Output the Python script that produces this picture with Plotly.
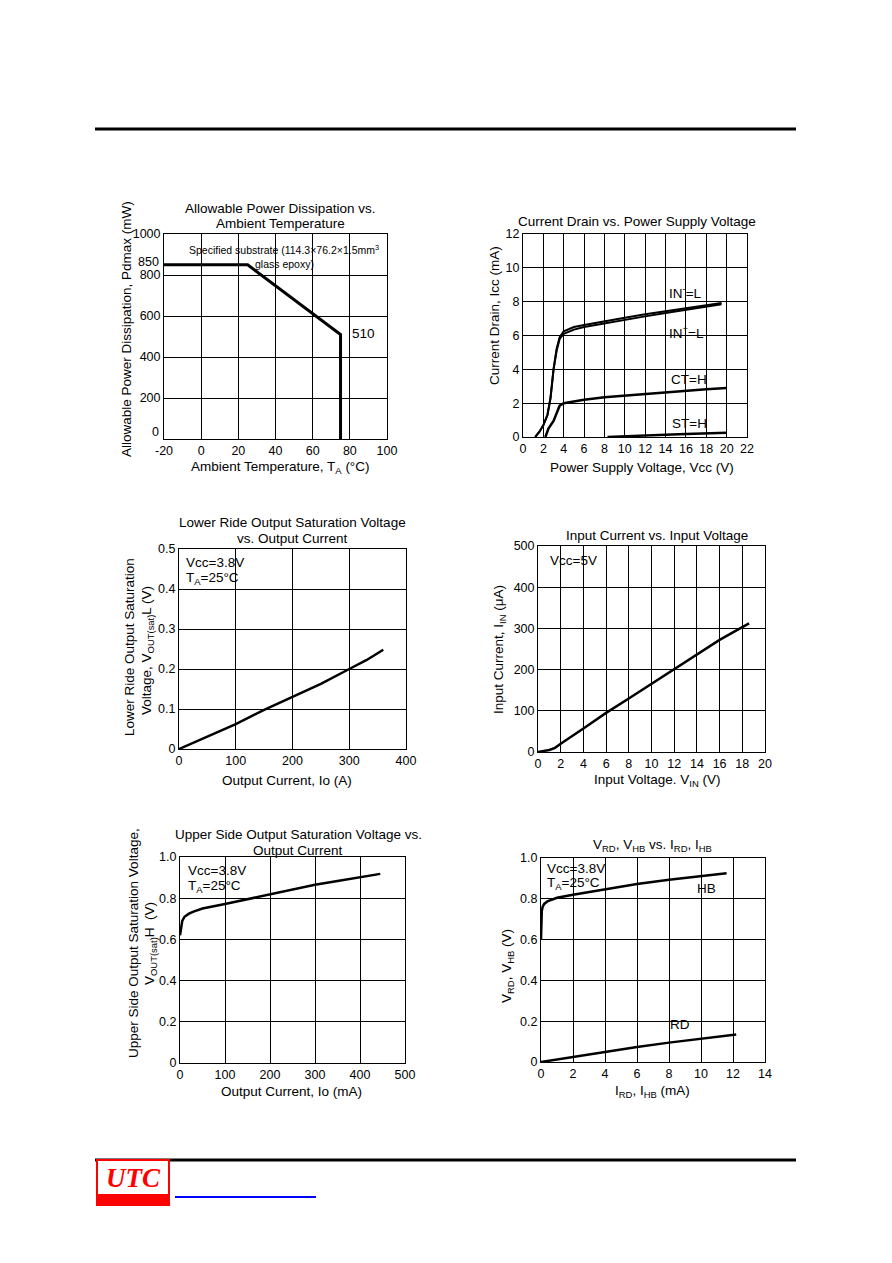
#!/usr/bin/env python

"""
Datasheet characteristic curves page, rebuilt with plotly.
"""

import plotly.graph_objects as go

################################################################################
################################### Data #######################################
################################################################################

### Allowable power dissipation vs. ambient temperature
PD_TEMP = [-20, 25, 75, 75]
PD_POWER = [850, 850, 510, 0]

### Current drain vs. power supply voltage
ICC_VCC_INM = [1.2, 1.6, 2.0, 2.4, 2.7, 3.0, 3.3, 3.6, 4.0, 5, 6, 8, 10, 12, 14, 16, 18, 19.5]
ICC_INM = [0, 0.3, 0.7, 1.3, 2.3, 4.0, 5.2, 5.9, 6.25, 6.5, 6.62, 6.85, 7.05, 7.25, 7.42, 7.6, 7.78, 7.92]
ICC_VCC_INP = [1.2, 1.6, 2.0, 2.4, 2.7, 3.0, 3.3, 3.6, 4.0, 5, 6, 8, 10, 12, 14, 16, 18, 19.5]
ICC_INP = [0, 0.3, 0.7, 1.3, 2.3, 4.0, 5.1, 5.8, 6.1, 6.35, 6.5, 6.72, 6.93, 7.13, 7.33, 7.52, 7.7, 7.85]
ICC_VCC_CT = [2.2, 2.5, 3.0, 3.3, 3.6, 4.0, 5, 6, 8, 10, 12, 14, 16, 18, 20]
ICC_CT = [0, 0.5, 0.95, 1.4, 1.85, 2.0, 2.1, 2.2, 2.35, 2.45, 2.55, 2.65, 2.75, 2.83, 2.9]
ICC_VCC_ST = [8.3, 10, 12, 14, 16, 18, 20]
ICC_ST = [0, 0.05, 0.1, 0.14, 0.18, 0.22, 0.25]

### Lower side output saturation voltage vs. output current
LO_IO = [0, 50, 100, 150, 200, 250, 300, 330, 360]
LO_VSAT = [0, 0.03, 0.062, 0.098, 0.13, 0.163, 0.2, 0.222, 0.248]

### Input current vs. input voltage
IN_VIN = [0, 0.5, 1.0, 1.5, 2, 4, 6, 8, 10, 12, 14, 16, 18, 18.6]
IN_IIN = [0, 2, 5, 10, 20, 57, 95, 130, 165, 200, 235, 272, 303, 312]

### Upper side output saturation voltage vs. output current
HI_IO = [0, 2, 5, 10, 20, 30, 50, 100, 150, 200, 250, 300, 350, 400, 445]
HI_VSAT = [0.62, 0.66, 0.69, 0.71, 0.725, 0.735, 0.75, 0.772, 0.796, 0.82, 0.843, 0.865, 0.883, 0.9, 0.918]

### V_RD, V_HB vs. I_RD, I_HB
HB_I = [0, 0.02, 0.05, 0.1, 0.2, 0.4, 0.7, 1, 2, 4, 6, 8, 10, 11.6]
HB_V = [0.6, 0.7, 0.74, 0.76, 0.775, 0.787, 0.797, 0.805, 0.82, 0.848, 0.873, 0.893, 0.91, 0.925]
RD_I = [0, 2, 4, 6, 8, 10, 12.2]
RD_V = [0, 0.025, 0.05, 0.074, 0.095, 0.115, 0.135]

### Tick labels
PD_XTICKS = [-20, 0, 20, 40, 60, 80, 100]
PD_XTEXT = ["-20", "0", "20", "40", "60", "80", "100"]
PD_YTICKS = [0, 200, 400, 600, 800, 1000]
PD_YTEXT = ["", "200", "400", "600", "800", "1000"]
TENTH_TICKS = [0, 0.1, 0.2, 0.3, 0.4, 0.5]
TENTH_TEXT = ["0", "0.1", "0.2", "0.3", "0.4", "0.5"]
FIFTH_TICKS = [0, 0.2, 0.4, 0.6, 0.8, 1.0]
FIFTH_TEXT = ["0", "0.2", "0.4", "0.6", "0.8", "1.0"]

################################################################################
################################## Layout ######################################
################################################################################

### The page body keeps its 8px margin, so the figure is 16px smaller than
### the window and every page position is shifted by that margin.
BODY = 8
FIG_W = 892 - 2 * BODY
FIG_H = 1263 - 2 * BODY - 4
FONT = "Liberation Sans"
TEXT_SIZE = 13.5
TICK_SIZE = 12.5


def px(x):
    return (x - BODY) / FIG_W


def py(y):
    return 1 - (y - BODY) / FIG_H


def axis_style(left, right, rng, tickvals, ticktext=None):
    return dict(
        domain=[px(left), px(right)],
        range=rng,
        tickvals=tickvals,
        ticktext=ticktext,
        showgrid=True, gridcolor="black", gridwidth=1,
        showline=True, linecolor="black", linewidth=1, mirror=True,
        zeroline=False, ticks="", showticklabels=True, automargin=False,
        tickfont=dict(family=FONT, size=TICK_SIZE, color="black"),
        fixedrange=True,
    )


def yaxis_style(top, bottom, rng, tickvals, ticktext=None):
    ax = axis_style(BODY, BODY + 1, rng, tickvals, ticktext)
    ax["domain"] = [py(bottom), py(top)]
    return ax


def label(x, y, text, size=TEXT_SIZE, xanchor="center", angle=0):
    return dict(x=px(x), y=py(y), xref="paper", yref="paper", text=text,
                showarrow=False, xanchor=xanchor, yanchor="middle",
                textangle=angle, font=dict(family=FONT, size=size, color="black"))


def curve(x, y, xa, ya, width=2.5):
    return go.Scatter(x=x, y=y, xaxis=xa, yaxis=ya, mode="lines",
                      line=dict(color="black", width=width), showlegend=False,
                      hoverinfo="skip")


fig = go.Figure()

### Data traces
fig.add_trace(curve(PD_TEMP, PD_POWER, "x", "y", 3))
fig.add_trace(curve(ICC_VCC_INM, ICC_INM, "x2", "y2", 2))
fig.add_trace(curve(ICC_VCC_INP, ICC_INP, "x2", "y2", 2))
fig.add_trace(curve(ICC_VCC_CT, ICC_CT, "x2", "y2", 2.5))
fig.add_trace(curve(ICC_VCC_ST, ICC_ST, "x2", "y2", 2.5))
fig.add_trace(curve(LO_IO, LO_VSAT, "x3", "y3"))
fig.add_trace(curve(IN_VIN, IN_IIN, "x4", "y4"))
fig.add_trace(curve(HI_IO, HI_VSAT, "x5", "y5"))
fig.add_trace(curve(HB_I, HB_V, "x6", "y6"))
fig.add_trace(curve(RD_I, RD_V, "x6", "y6"))

fig.update_layout(
    template="none",
    width=FIG_W, height=FIG_H, autosize=False,
    margin=dict(l=0, r=0, t=0, b=0, pad=0, autoexpand=False),
    paper_bgcolor="white", plot_bgcolor="white",
    font=dict(family=FONT, size=TEXT_SIZE, color="black"),
    xaxis=dict(axis_style(164, 387, [-20, 100], PD_XTICKS, PD_XTEXT), anchor="y"),
    yaxis=dict(yaxis_style(234, 439, [0, 1000], PD_YTICKS, PD_YTEXT), anchor="x"),
    xaxis2=dict(axis_style(523, 747, [0, 22], list(range(0, 23, 2))), anchor="y2"),
    yaxis2=dict(yaxis_style(234, 437, [0, 12], list(range(0, 13, 2))), anchor="x2"),
    xaxis3=dict(axis_style(179, 406, [0, 400], [0, 100, 200, 300, 400]), anchor="y3"),
    yaxis3=dict(yaxis_style(549, 749, [0, 0.5], TENTH_TICKS, TENTH_TEXT), anchor="x3"),
    xaxis4=dict(axis_style(538, 765, [0, 20], list(range(0, 21, 2))), anchor="y4"),
    yaxis4=dict(yaxis_style(546, 752, [0, 500], [0, 100, 200, 300, 400, 500]), anchor="x4"),
    xaxis5=dict(axis_style(180, 405, [0, 500], [0, 100, 200, 300, 400, 500]), anchor="y5"),
    yaxis5=dict(yaxis_style(857, 1063, [0, 1.0], FIFTH_TICKS, FIFTH_TEXT), anchor="x5"),
    xaxis6=dict(axis_style(541, 765, [0, 14], list(range(0, 15, 2))), anchor="y6"),
    yaxis6=dict(yaxis_style(858, 1062, [0, 1.0], FIFTH_TICKS, FIFTH_TEXT), anchor="x6"),
)

annotations = [
    ### Chart 1
    label(280, 208, "Allowable Power Dissipation vs."),
    label(280, 223, "Ambient Temperature"),
    label(280, 467, "Ambient Temperature, T<sub>A</sub> (°C)"),
    label(127, 329, "Allowable Power Dissipation, Pdmax (mW)", angle=-90),
    label(161, 262, "850", size=TICK_SIZE, xanchor="right"),
    label(161, 432, "0", size=TICK_SIZE, xanchor="right"),
    label(284, 250, "Specified substrate (114.3×76.2×1.5mm<sup>3</sup>", size=10.5),
    label(284, 264, "glass epoxy)", size=10.5),
    label(350, 334, "510", xanchor="left"),
    ### Chart 2
    label(637, 221, "Current Drain vs. Power Supply Voltage"),
    label(642, 467, "Power Supply Voltage, Vcc (V)"),
    label(495, 316, "Current Drain, Icc (mA)", angle=-90),
    label(685, 292, "IN<sup>-</sup>=L"),
    label(686, 332, "IN<sup>+</sup>=L"),
    label(689, 379, "CT=H"),
    label(689, 423, "ST=H"),
    ### Chart 3
    label(292, 522, "Lower Ride Output Saturation Voltage"),
    label(292, 538, "vs. Output Current"),
    label(287, 780, "Output Current, Io (A)"),
    label(129, 647, "Lower Ride Output Saturation", angle=-90),
    label(147, 651, "Voltage, V<sub>OUT(sat)</sub>L (V)", angle=-90),
    label(184, 562, "Vcc=3.8V", xanchor="left"),
    label(184, 578, "T<sub>A</sub>=25°C", xanchor="left"),
    ### Chart 4
    label(657, 535, "Input Current vs. Input Voltage"),
    label(657, 780, "Input Voltage. V<sub>IN</sub> (V)"),
    label(499, 650, "Input Current, I<sub>IN</sub> (μA)", angle=-90),
    label(548, 560, "Vcc=5V", xanchor="left"),
    ### Chart 5
    label(298, 834, "Upper Side Output Saturation Voltage vs."),
    label(298, 850, "Output Current"),
    label(291, 1091, "Output Current, Io (mA)"),
    label(134, 943, "Upper Side Output Saturation Voltage,", angle=-90),
    label(151, 944, "V<sub>OUT(sat)</sub>H  (V)", angle=-90),
    label(186, 870, "Vcc=3.8V", xanchor="left"),
    label(186, 886, "T<sub>A</sub>=25°C", xanchor="left"),
    ### Chart 6
    label(652, 845, "V<sub>RD</sub>, V<sub>HB</sub> vs. I<sub>RD</sub>, I<sub>HB</sub>"),
    label(652, 1091, "I<sub>RD</sub>, I<sub>HB</sub> (mA)"),
    label(507, 966, "V<sub>RD</sub>, V<sub>HB</sub> (V)", angle=-90),
    label(545, 868, "Vcc=3.8V", xanchor="left"),
    label(545, 883, "T<sub>A</sub>=25°C", xanchor="left"),
    label(706, 888, "HB"),
    label(680, 1024, "RD"),
    ### Footer logo text
    dict(x=px(133), y=py(1178), xref="paper", yref="paper", text="<i><b>UTC</b></i>",
         showarrow=False, xanchor="center", yanchor="middle",
         font=dict(family="Liberation Serif", size=27, color="#ff0000")),
]
fig.update_layout(annotations=annotations)

### Page decoration: header rule, footer rule, logo box and link underline
shapes = [
    dict(type="line", xref="paper", yref="paper", x0=px(95), x1=px(796),
         y0=py(129), y1=py(129), line=dict(color="black", width=3)),
    dict(type="line", xref="paper", yref="paper", x0=px(95), x1=px(796),
         y0=py(1160), y1=py(1160), line=dict(color="black", width=3)),
    dict(type="rect", xref="paper", yref="paper", x0=px(97), x1=px(169),
         y0=py(1205), y1=py(1160), line=dict(color="#ff0000", width=2),
         fillcolor="white"),
    dict(type="rect", xref="paper", yref="paper", x0=px(97), x1=px(169),
         y0=py(1205), y1=py(1194), line=dict(width=0), fillcolor="#ff0000"),
    dict(type="line", xref="paper", yref="paper", x0=px(175), x1=px(316),
         y0=py(1197), y1=py(1197), line=dict(color="#0000ff", width=2)),
]
fig.update_layout(shapes=shapes)

fig.write_html("out.html", config=dict(displayModeBar=False))
